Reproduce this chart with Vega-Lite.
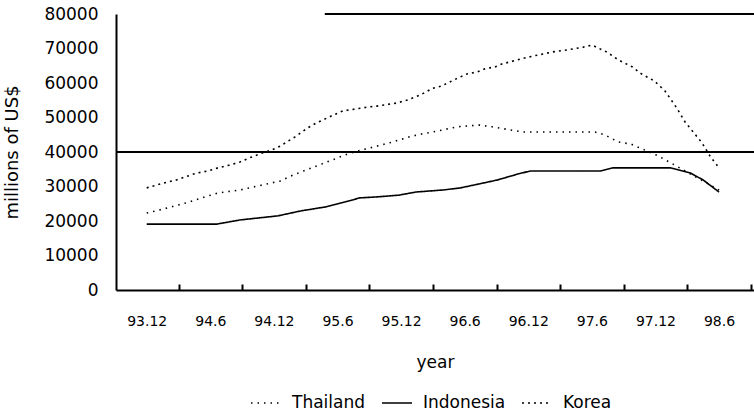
{
  "$schema": "https://vega.github.io/schema/vega-lite/v6.json",
  "autosize": {"type": "none"},
  "padding": {"left": 116, "top": 14, "right": 0, "bottom": 124},
  "width": 638,
  "height": 276,
  "background": "white",
  "config": {
    "view": {"stroke": null},
    "font": "DejaVu Sans",
    "axis": {"grid": false, "domainColor": "black", "domainWidth": 2, "labelColor": "black", "titleColor": "black", "titleFontWeight": "normal"}
  },
  "datasets": {
    "series": [
      {"country": "Korea", "t": 0.0, "v": 29600},
      {"country": "Korea", "t": 1.6, "v": 31000},
      {"country": "Korea", "t": 2.8, "v": 31900},
      {"country": "Korea", "t": 4.7, "v": 33900},
      {"country": "Korea", "t": 5.8, "v": 34500},
      {"country": "Korea", "t": 6.7, "v": 35400},
      {"country": "Korea", "t": 7.8, "v": 36200},
      {"country": "Korea", "t": 8.8, "v": 37100},
      {"country": "Korea", "t": 9.7, "v": 38300},
      {"country": "Korea", "t": 10.9, "v": 39700},
      {"country": "Korea", "t": 11.8, "v": 40600},
      {"country": "Korea", "t": 12.6, "v": 41700},
      {"country": "Korea", "t": 13.2, "v": 42900},
      {"country": "Korea", "t": 14.0, "v": 44400},
      {"country": "Korea", "t": 15.2, "v": 47000},
      {"country": "Korea", "t": 16.0, "v": 48400},
      {"country": "Korea", "t": 17.6, "v": 50700},
      {"country": "Korea", "t": 18.5, "v": 51900},
      {"country": "Korea", "t": 20.8, "v": 53000},
      {"country": "Korea", "t": 21.7, "v": 53300},
      {"country": "Korea", "t": 23.6, "v": 54200},
      {"country": "Korea", "t": 24.6, "v": 55100},
      {"country": "Korea", "t": 25.8, "v": 56500},
      {"country": "Korea", "t": 27.0, "v": 58500},
      {"country": "Korea", "t": 27.8, "v": 59100},
      {"country": "Korea", "t": 29.2, "v": 61200},
      {"country": "Korea", "t": 30.2, "v": 62600},
      {"country": "Korea", "t": 31.2, "v": 63200},
      {"country": "Korea", "t": 31.9, "v": 64100},
      {"country": "Korea", "t": 32.9, "v": 64700},
      {"country": "Korea", "t": 33.5, "v": 65500},
      {"country": "Korea", "t": 35.0, "v": 66700},
      {"country": "Korea", "t": 36.0, "v": 67500},
      {"country": "Korea", "t": 36.9, "v": 68100},
      {"country": "Korea", "t": 38.3, "v": 69000},
      {"country": "Korea", "t": 39.7, "v": 69600},
      {"country": "Korea", "t": 41.2, "v": 70400},
      {"country": "Korea", "t": 42.0, "v": 71000},
      {"country": "Korea", "t": 43.4, "v": 69000},
      {"country": "Korea", "t": 44.5, "v": 66700},
      {"country": "Korea", "t": 45.8, "v": 64700},
      {"country": "Korea", "t": 46.7, "v": 62600},
      {"country": "Korea", "t": 47.9, "v": 60600},
      {"country": "Korea", "t": 48.9, "v": 57700},
      {"country": "Korea", "t": 50.0, "v": 52800},
      {"country": "Korea", "t": 50.8, "v": 48700},
      {"country": "Korea", "t": 51.8, "v": 44900},
      {"country": "Korea", "t": 52.4, "v": 42600},
      {"country": "Korea", "t": 53.2, "v": 38600},
      {"country": "Korea", "t": 54.0, "v": 35400},
      {"country": "Thailand", "t": 0.0, "v": 22300},
      {"country": "Thailand", "t": 1.6, "v": 23500},
      {"country": "Thailand", "t": 3.3, "v": 24900},
      {"country": "Thailand", "t": 4.0, "v": 25500},
      {"country": "Thailand", "t": 5.5, "v": 27000},
      {"country": "Thailand", "t": 6.7, "v": 28100},
      {"country": "Thailand", "t": 8.8, "v": 29000},
      {"country": "Thailand", "t": 11.3, "v": 30700},
      {"country": "Thailand", "t": 12.6, "v": 31600},
      {"country": "Thailand", "t": 13.8, "v": 33300},
      {"country": "Thailand", "t": 14.8, "v": 34500},
      {"country": "Thailand", "t": 19.2, "v": 39700},
      {"country": "Thailand", "t": 21.1, "v": 41200},
      {"country": "Thailand", "t": 23.2, "v": 42900},
      {"country": "Thailand", "t": 24.8, "v": 44400},
      {"country": "Thailand", "t": 25.9, "v": 45200},
      {"country": "Thailand", "t": 27.0, "v": 45800},
      {"country": "Thailand", "t": 29.3, "v": 47300},
      {"country": "Thailand", "t": 31.4, "v": 47800},
      {"country": "Thailand", "t": 32.6, "v": 47300},
      {"country": "Thailand", "t": 35.5, "v": 45800},
      {"country": "Thailand", "t": 36.8, "v": 45800},
      {"country": "Thailand", "t": 39.3, "v": 45800},
      {"country": "Thailand", "t": 40.9, "v": 45800},
      {"country": "Thailand", "t": 42.3, "v": 45800},
      {"country": "Thailand", "t": 43.2, "v": 45000},
      {"country": "Thailand", "t": 44.5, "v": 42900},
      {"country": "Thailand", "t": 45.7, "v": 42300},
      {"country": "Thailand", "t": 48.3, "v": 38800},
      {"country": "Thailand", "t": 50.0, "v": 35900},
      {"country": "Thailand", "t": 51.6, "v": 33100},
      {"country": "Thailand", "t": 52.5, "v": 31600},
      {"country": "Thailand", "t": 54.0, "v": 29000},
      {"country": "Indonesia", "t": 0.0, "v": 19100},
      {"country": "Indonesia", "t": 6.6, "v": 19100},
      {"country": "Indonesia", "t": 8.8, "v": 20300},
      {"country": "Indonesia", "t": 12.4, "v": 21500},
      {"country": "Indonesia", "t": 14.5, "v": 22900},
      {"country": "Indonesia", "t": 16.9, "v": 24100},
      {"country": "Indonesia", "t": 18.7, "v": 25500},
      {"country": "Indonesia", "t": 20.1, "v": 26700},
      {"country": "Indonesia", "t": 21.8, "v": 27000},
      {"country": "Indonesia", "t": 23.8, "v": 27500},
      {"country": "Indonesia", "t": 25.4, "v": 28400},
      {"country": "Indonesia", "t": 28.0, "v": 29000},
      {"country": "Indonesia", "t": 29.6, "v": 29600},
      {"country": "Indonesia", "t": 31.3, "v": 30700},
      {"country": "Indonesia", "t": 33.1, "v": 31900},
      {"country": "Indonesia", "t": 35.0, "v": 33600},
      {"country": "Indonesia", "t": 36.2, "v": 34500},
      {"country": "Indonesia", "t": 42.8, "v": 34500},
      {"country": "Indonesia", "t": 44.0, "v": 35400},
      {"country": "Indonesia", "t": 49.4, "v": 35400},
      {"country": "Indonesia", "t": 51.3, "v": 33900},
      {"country": "Indonesia", "t": 52.5, "v": 31900},
      {"country": "Indonesia", "t": 54.0, "v": 28400}
    ],
    "rules": [
      {"level": 40000, "from": -2.9, "to": 57.3},
      {"level": 80000, "from": 16.8, "to": 57.3}
    ]
  },
  "layer": [
    {
      "data": {"name": "series"},
      "mark": {"type": "line", "color": "black", "strokeWidth": 1.6, "clip": true},
      "encoding": {
        "x": {
          "field": "t", "type": "quantitative",
          "scale": {"domain": [-2.9, 57.3], "nice": false, "zero": false},
          "axis": {
            "title": "year", "values": [0, 6, 12, 18, 24, 30, 36, 42, 48, 54],
            "labelExpr": "['93.12','94.6','94.12','95.6','95.12','96.6','96.12','97.6','97.12','98.6'][round(datum.value / 6)]",
            "tickOffset": 32, "labelOffset": -32, "tickSize": -6, "tickColor": "black", "tickWidth": 2,
            "labelFontSize": 14, "titleFontSize": 17,
            "labelPadding": 30, "titlePadding": 26, "labelFlush": false
          }
        },
        "y": {
          "field": "v", "type": "quantitative",
          "scale": {"domain": [0, 80000], "nice": false},
          "axis": {"title": "millions of US$", "values": [0, 10000, 20000, 30000, 40000, 50000, 60000, 70000, 80000], "tickCount": 9, "labelExpr": "datum.value", "ticks": false, "labelOverlap": false, "labelFontSize": 17, "titleFontSize": 18, "labelPadding": 18, "titlePadding": 22}
        },
        "strokeDash": {
          "field": "country", "type": "nominal",
          "scale": {"domain": ["Thailand", "Indonesia", "Korea"], "range": [[1.5, 5], [1, 0], [2, 4]]},
          "legend": {"title": null, "orient": "none", "legendX": 134, "legendY": 373, "direction": "horizontal", "symbolType": "stroke", "symbolStrokeColor": "black", "symbolStrokeWidth": 1.6, "symbolSize": 900, "labelOffset": 10, "labelFontSize": 17, "labelColor": "black", "columnPadding": 12}
        },
        "detail": {"field": "country"}
      }
    },
    {
      "data": {"name": "rules"},
      "mark": {"type": "rule", "color": "black", "strokeWidth": 2},
      "encoding": {
        "x": {"field": "from", "type": "quantitative"},
        "x2": {"field": "to"},
        "y": {
          "field": "level", "type": "quantitative",
          "axis": {"title": "millions of US$", "values": [0, 10000, 20000, 30000, 40000, 50000, 60000, 70000, 80000], "tickCount": 9, "labelExpr": "datum.value", "ticks": false, "labelOverlap": false, "labelFontSize": 17, "titleFontSize": 18, "labelPadding": 18, "titlePadding": 22}
        }
      }
    }
  ]
}
